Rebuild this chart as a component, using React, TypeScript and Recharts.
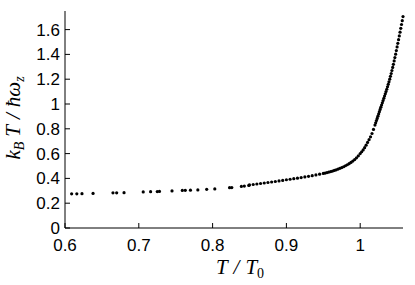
import React from "react";
import { ScatterChart, Scatter, XAxis, YAxis, Label } from "recharts";

// sparse low-temperature points
const tailT = [0.609, 0.616, 0.623, 0.638, 0.665, 0.670, 0.680, 0.706, 0.716, 0.725, 0.728, 0.745, 0.759, 0.763, 0.770, 0.780, 0.792, 0.803, 0.823, 0.826, 0.839, 0.843, 0.849];
const tailE = [0.276, 0.276, 0.277, 0.279, 0.284, 0.284, 0.285, 0.291, 0.293, 0.294, 0.295, 0.299, 0.303, 0.304, 0.305, 0.307, 0.312, 0.315, 0.325, 0.326, 0.335, 0.338, 0.343];

// dense part of the curve
const curveT = [
  0.850, 0.855, 0.860, 0.865, 0.870, 0.875, 0.880, 0.885, 0.890, 0.895, 0.900, 0.905, 0.910, 0.915, 0.920, 0.925, 0.930, 0.935, 0.940, 0.945, 0.950,
  0.9525, 0.955, 0.9575, 0.960, 0.9625, 0.965, 0.9675, 0.970, 0.9725, 0.975, 0.9775, 0.980, 0.9825, 0.985, 0.9875, 0.990, 0.9925, 0.995, 0.9975, 1.000,
  1.002, 1.004, 1.006, 1.008, 1.010, 1.012, 1.014, 1.016, 1.018, 1.020,
  1.021, 1.022, 1.023, 1.024, 1.025, 1.026, 1.027, 1.028, 1.029, 1.030, 1.031, 1.032, 1.033, 1.034, 1.035, 1.036, 1.037, 1.038, 1.039, 1.040,
  1.041, 1.042, 1.043, 1.044, 1.045, 1.046, 1.047, 1.048, 1.049, 1.050, 1.051, 1.052, 1.053, 1.054, 1.055, 1.056, 1.057, 1.058,
];
const curveE = [
  0.347, 0.351, 0.355, 0.359, 0.363, 0.367, 0.371, 0.375, 0.380, 0.384, 0.389, 0.393, 0.398, 0.402, 0.407, 0.412, 0.417, 0.422, 0.428, 0.434, 0.440,
  0.443, 0.447, 0.451, 0.455, 0.459, 0.464, 0.469, 0.475, 0.481, 0.487, 0.494, 0.502, 0.510, 0.519, 0.529, 0.540, 0.552, 0.566, 0.582, 0.600,
  0.615, 0.630, 0.648, 0.668, 0.690, 0.712, 0.735, 0.762, 0.795, 0.830,
  0.848, 0.866, 0.884, 0.902, 0.920, 0.938, 0.956, 0.974, 0.992, 1.010, 1.028, 1.046, 1.064, 1.082, 1.100, 1.119, 1.139, 1.159, 1.179, 1.200,
  1.223, 1.246, 1.270, 1.295, 1.320, 1.347, 1.374, 1.402, 1.431, 1.460, 1.489, 1.519, 1.549, 1.579, 1.610, 1.641, 1.672, 1.705,
];

const xTicks = [0.6, 0.7, 0.8, 0.9, 1];
const yTicks = [0, 0.2, 0.4, 0.6, 0.8, 1, 1.2, 1.4, 1.6];

const points = [...tailT, ...curveT].map((t, i) => ({
  t,
  e: i < tailT.length ? tailE[i] : curveE[i - tailT.length],
}));

const tickFont = { fontFamily: "Liberation Sans", fontSize: 17, fill: "#000" };
const mathFont = "Liberation Serif";

const Dot = (props: any) => <circle cx={props.cx} cy={props.cy} r={1.6} fill="#000" />;

const Blank = () => <g />;

export default function App() {
  return (
    <div style={{ position: "absolute", left: 0, top: 0, background: "#fff" }}>
      <ScatterChart width={415} height={285} margin={{ top: 11, right: 12, bottom: 0, left: 0 }}>
        <XAxis
          type="number"
          dataKey="t"
          domain={[0.6, 1.058]}
          ticks={xTicks}
          interval={0}
          height={57}
          tickSize={-5}
          tickMargin={16}
          tick={tickFont}
          stroke="#000"
          tickLine={{ stroke: "#000" }}
          axisLine={{ stroke: "#000" }}
        >
          <Label
            content={() => (
              <text x={240} y={274} textAnchor="middle" fontFamily={mathFont} fontStyle="italic" fontSize={21} fill="#000">
                <tspan>T</tspan>
                <tspan dx={6}>/</tspan>
                <tspan dx={6}>T</tspan>
                <tspan fontStyle="normal" fontSize={14} dy={4}>0</tspan>
              </text>
            )}
          />
        </XAxis>
        <XAxis
          xAxisId="top"
          orientation="top"
          type="number"
          domain={[0.6, 1.058]}
          ticks={xTicks}
          interval={0}
          height={0}
          tickSize={-5}
          tick={Blank}
          axisLine={{ stroke: "#000" }}
          tickLine={{ stroke: "#000" }}
        />
        <YAxis
          type="number"
          dataKey="e"
          domain={[0, 1.75]}
          ticks={yTicks}
          interval={0}
          width={65}
          tickSize={-5}
          tickMargin={10}
          tick={tickFont}
          axisLine={{ stroke: "#000" }}
          tickLine={{ stroke: "#000" }}
        >
          <Label
            content={() => (
              <text
                transform="translate(20,118) rotate(-90)"
                textAnchor="middle"
                fontFamily={mathFont}
                fontStyle="italic"
                fontSize={21}
                fill="#000"
              >
                <tspan>k</tspan>
                <tspan fontSize={14} dy={4}>B</tspan>
                <tspan dy={-4} dx={5}>T</tspan>
                <tspan dx={6}>/</tspan>
                <tspan dx={6}>ħ</tspan>
                <tspan>ω</tspan>
                <tspan fontSize={14} dy={4}>z</tspan>
              </text>
            )}
          />
        </YAxis>
        <YAxis
          yAxisId="right"
          orientation="right"
          type="number"
          domain={[0, 1.75]}
          ticks={yTicks}
          interval={0}
          width={0}
          tickSize={-5}
          tick={Blank}
          axisLine={{ stroke: "#000" }}
          tickLine={{ stroke: "#000" }}
        />
        <Scatter data={points} shape={Dot} fill="#000" isAnimationActive={false} />
      </ScatterChart>
    </div>
  );
}
